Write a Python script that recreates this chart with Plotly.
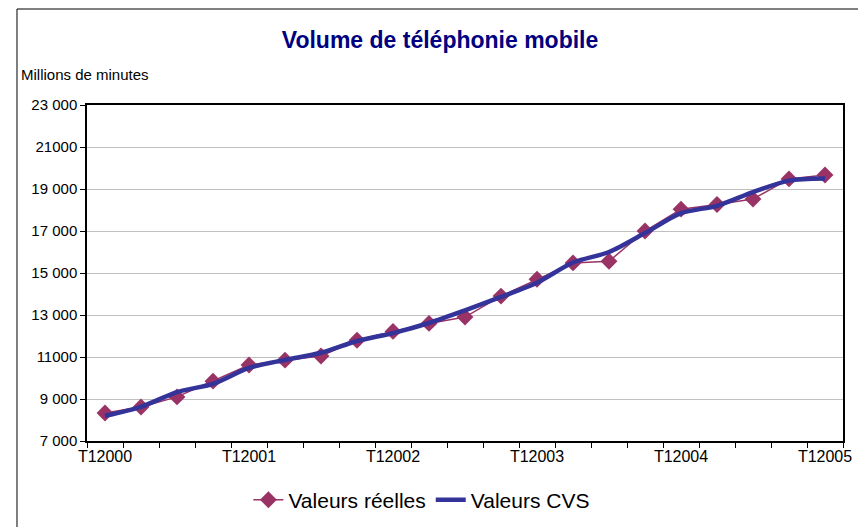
import plotly.graph_objects as go

# quarters T1 2000 .. T1 2005
quarters = list(range(21))
tick_pos = [0, 4, 8, 12, 16, 20]
tick_labels = ["T12000", "T12001", "T12002", "T12003", "T12004", "T12005"]

valeurs_reelles = [8330, 8620, 9100, 9850, 10620, 10850, 11050, 11800, 12220, 12600,
                   12900, 13900, 14700, 15480, 15560, 17000, 18040, 18260, 18520, 19480, 19670]
valeurs_cvs = [8200, 8630, 9330, 9720, 10480, 10860, 11200, 11760, 12140, 12620,
               13220, 13860, 14540, 15500, 16000, 16900, 17850, 18200, 18850, 19400, 19500]

y_ticks = [7000, 9000, 11000, 13000, 15000, 17000, 19000, 21000, 23000]
y_labels = ["7 000", "9 000", "11000", "13 000", "15 000", "17 000", "19 000", "21000", "23 000"]

fig = go.Figure()

fig.add_trace(go.Scatter(x=quarters, y=valeurs_reelles, name="Valeurs réelles",
                         mode="lines+markers",
                         line=dict(color="#993366", width=1.5),
                         marker=dict(symbol="diamond", size=13, color="#993366")))

fig.add_trace(go.Scatter(x=quarters, y=valeurs_cvs, name="Valeurs CVS",
                         mode="lines",
                         line=dict(color="#333399", width=4.5, shape="spline", smoothing=0.8)))

fig.update_layout(
    width=858, height=527,
    margin=dict(l=87, r=15, t=105, b=86, autoexpand=False),
    paper_bgcolor="white", plot_bgcolor="white",
    font=dict(family="Liberation Sans, Arial, sans-serif", color="black", size=15),
    title=dict(text="<b>Volume de téléphonie mobile</b>", xref="paper", x=0.467,
               xanchor="center", yref="container", y=0.924, yanchor="middle",
               font=dict(size=23, color="#000080")),
    showlegend=True,
    legend=dict(orientation="h", x=0.443, xanchor="center",
                yref="container", y=0.051, yanchor="middle",
                font=dict(size=21)),
    annotations=[dict(text="Millions de minutes", xref="paper", yref="paper",
                      x=-0.09, y=1.09, xanchor="left", yanchor="middle",
                      showarrow=False, font=dict(size=15))],
    shapes=[dict(type="rect", xref="paper", yref="paper",
                 x0=-0.0926, x1=1.05, y0=-0.4, y1=1.2857,
                 line=dict(color="black", width=1), layer="below")],
)

fig.update_xaxes(range=[-0.5, 20.5], tickvals=tick_pos, ticktext=tick_labels,
                 ticks="", showgrid=False, zeroline=False, automargin=False,
                 ticklabeloverflow="allow",
                 showline=True, linecolor="black", linewidth=1.5, mirror=True,
                 tickfont=dict(size=16),
                 minor=dict(ticks="outside", tick0=-0.5, dtick=1, ticklen=5,
                            tickcolor="black", showgrid=False))

fig.update_yaxes(range=[7000, 23000], tickvals=y_ticks, ticktext=y_labels,
                 ticks="outside", ticklen=5, tickcolor="black", automargin=False,
                 showgrid=True, gridcolor="#c0c0c0", gridwidth=1.2, zeroline=False,
                 showline=True, linecolor="black", linewidth=1.5, mirror=True,
                 tickfont=dict(size=15))

# drop the default 8px page margin so the figure fills the window
fig.write_html("out.html", config={"displayModeBar": False},
               post_script="document.body.style.margin='0';")
